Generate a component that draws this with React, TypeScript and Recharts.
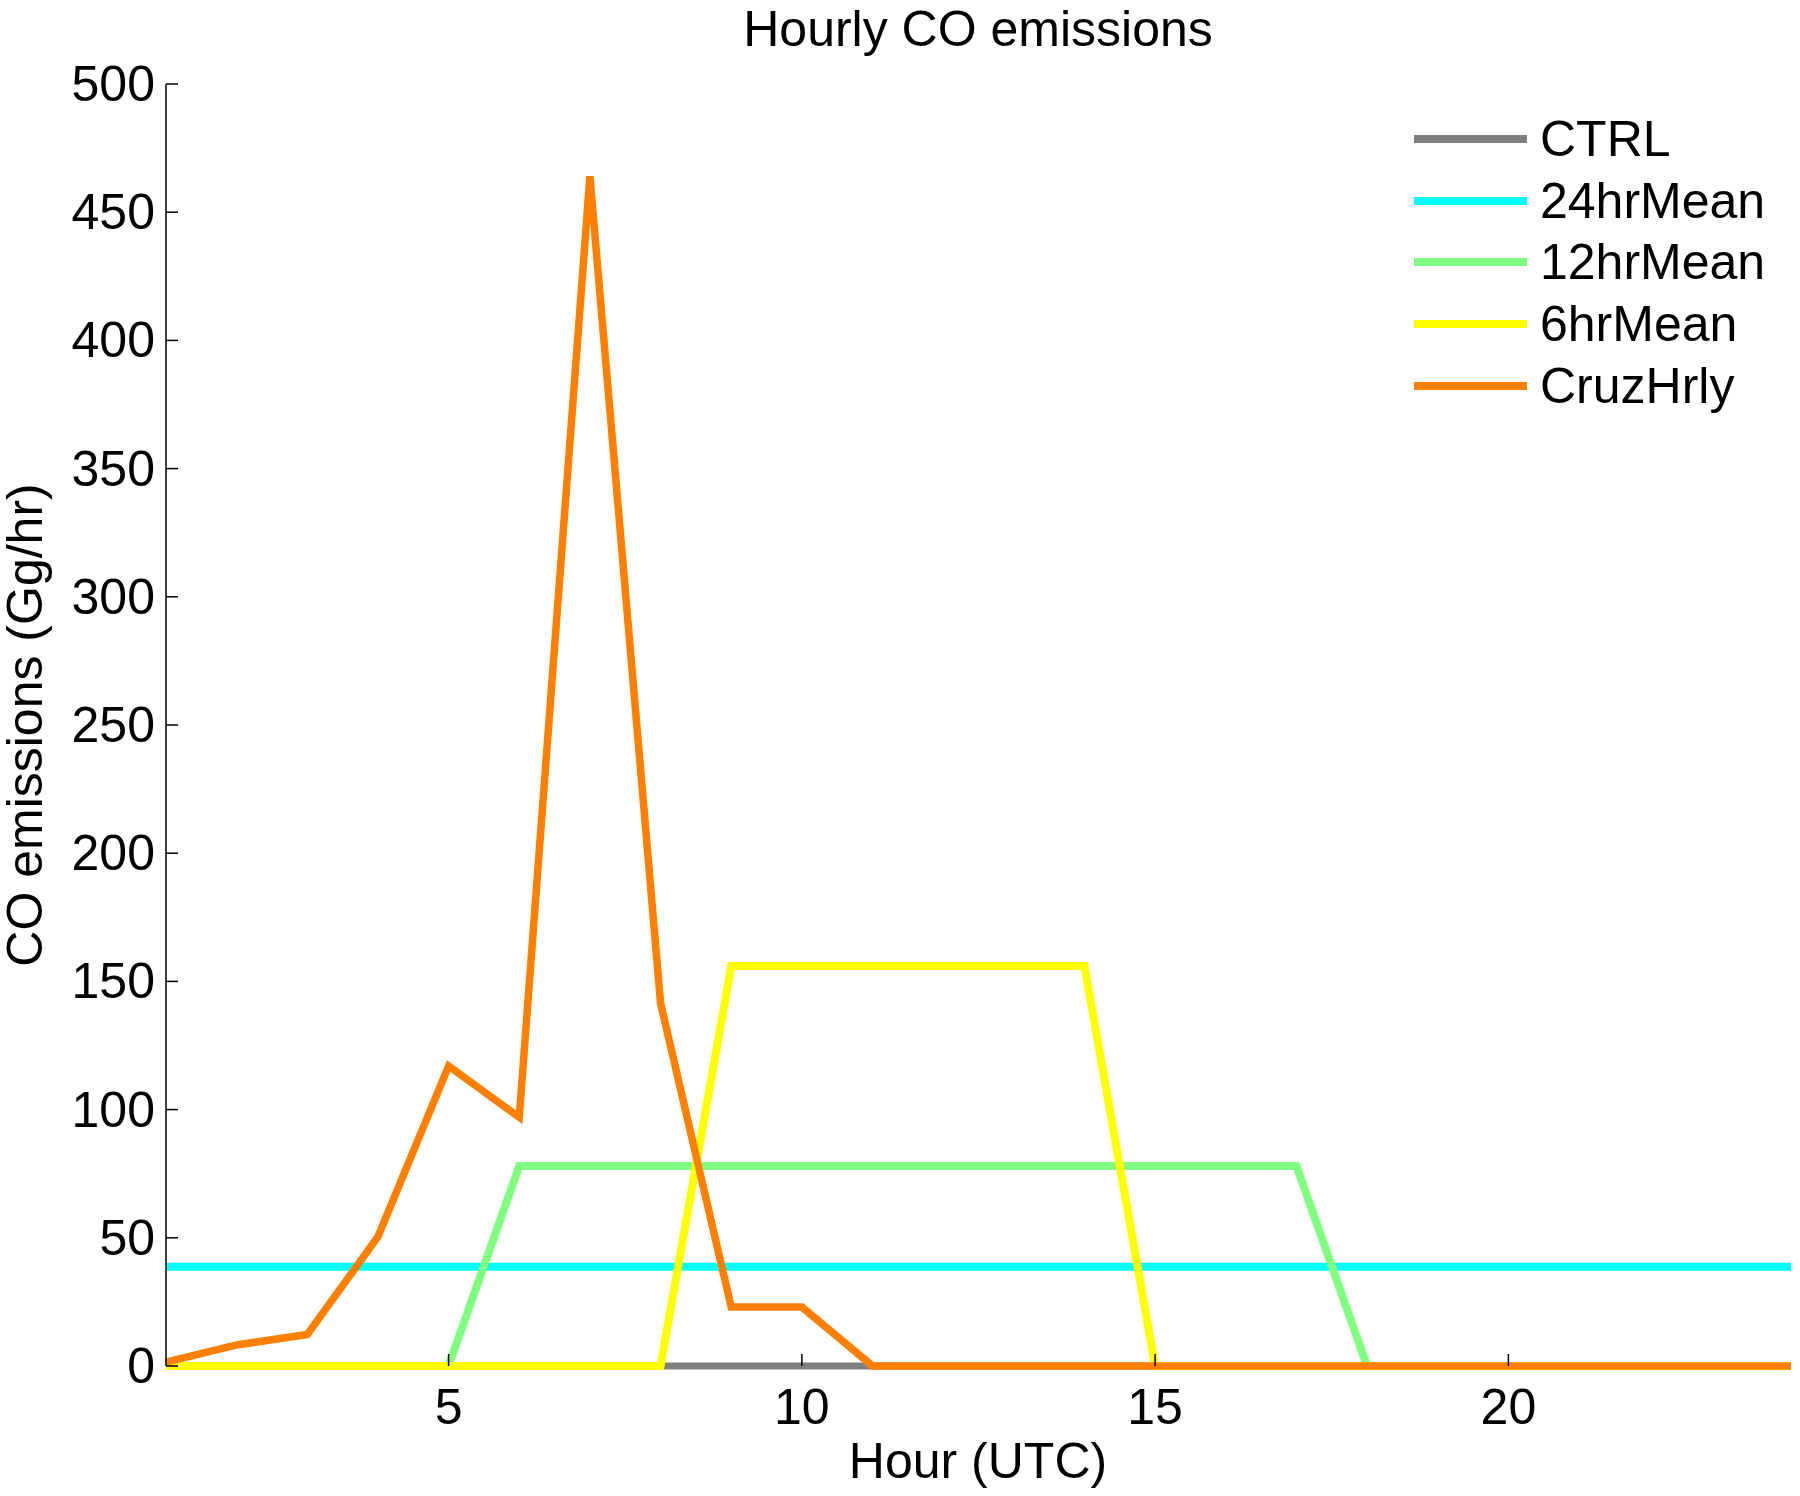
import React from "react";
import { LineChart, Line, XAxis, YAxis } from "recharts";

const hours = [1, 2, 3, 4, 5, 6, 7, 8, 9, 10, 11, 12, 13, 14, 15, 16, 17, 18, 19, 20, 21, 22, 23, 24];
const ctrl = [0, 0, 0, 0, 0, 0, 0, 0, 0, 0, 0, 0, 0, 0, 0, 0, 0, 0, 0, 0, 0, 0, 0, 0];
const mean24 = [38.7, 38.7, 38.7, 38.7, 38.7, 38.7, 38.7, 38.7, 38.7, 38.7, 38.7, 38.7, 38.7, 38.7, 38.7, 38.7, 38.7, 38.7, 38.7, 38.7, 38.7, 38.7, 38.7, 38.7];
const mean12 = [0, 0, 0, 0, 0, 78, 78, 78, 78, 78, 78, 78, 78, 78, 78, 78, 78, 0, 0, 0, 0, 0, 0, 0];
const mean6 = [0, 0, 0, 0, 0, 0, 0, 0, 156, 156, 156, 156, 156, 156, 0, 0, 0, 0, 0, 0, 0, 0, 0, 0];
const cruzHrly = [1.5, 8.2, 12.3, 50.4, 117, 97, 464, 141.5, 23, 23, 0, 0, 0, 0, 0, 0, 0, 0, 0, 0, 0, 0, 0, 0];

const xTicks = [5, 10, 15, 20];
const yTicks = [0, 50, 100, 150, 200, 250, 300, 350, 400, 450, 500];

const series = [
  { key: "ctrl", name: "CTRL", color: "#808080", width: 7 },
  { key: "mean24", name: "24hrMean", color: "#00ffff", width: 8 },
  { key: "mean12", name: "12hrMean", color: "#80ff80", width: 8 },
  { key: "mean6", name: "6hrMean", color: "#ffff00", width: 8 },
  { key: "cruz", name: "CruzHrly", color: "#ff8000", width: 7.5 },
];

const data = hours.map((h, i) => ({
  hour: h,
  ctrl: ctrl[i],
  mean24: mean24[i],
  mean12: mean12[i],
  mean6: mean6[i],
  cruz: cruzHrly[i],
}));

const FONT = "'Liberation Sans', Arial, Helvetica, sans-serif";
const TICK = 12;

function XTick(props: any) {
  const { x, y, payload } = props;
  return (
    <g>
      <line x1={x} y1={y} x2={x} y2={y - TICK} stroke="#000" strokeWidth={1.5} />
      <text x={x} y={y + 41} textAnchor="middle" dominantBaseline="central" fontSize={50} fontFamily={FONT} fill="#000">
        {payload.value}
      </text>
    </g>
  );
}

function YTick(props: any) {
  const { x, y, payload } = props;
  return (
    <g>
      <line x1={x} y1={y} x2={x + TICK} y2={y} stroke="#000" strokeWidth={1.5} />
      <text x={x - 11} y={y} textAnchor="end" dominantBaseline="central" fontSize={50} fontFamily={FONT} fill="#000">
        {payload.value}
      </text>
    </g>
  );
}

function LegendBox() {
  return (
    <div style={{ position: "absolute", left: 1414, top: 108, fontFamily: FONT, fontSize: 50, color: "#000" }}>
      {series.map((s) => (
        <div key={s.key} style={{ display: "flex", alignItems: "center", height: 61.7 }}>
          <div style={{ width: 113, height: 8, background: s.color, marginRight: 13 }} />
          <span style={{ lineHeight: 1 }}>{s.name}</span>
        </div>
      ))}
    </div>
  );
}

export default function App() {
  return (
    <div style={{ position: "absolute", left: 0, top: 0, width: 1800, height: 1496, background: "#fff" }}>
      <LineChart width={1800} height={1496} data={data} margin={{ top: 84, right: 9, bottom: 0, left: 0 }}>
        <XAxis
          dataKey="hour"
          type="number"
          domain={[1, 24]}
          ticks={xTicks}
          height={130}
          tickSize={0}
          tickMargin={0}
          tick={<XTick />}
          axisLine={false}
          tickLine={false}
        />
        <YAxis
          type="number"
          domain={[0, 500]}
          ticks={yTicks}
          width={166}
          tickSize={0}
          tickMargin={0}
          tick={<YTick />}
          axisLine={{ stroke: "#000", strokeWidth: 1.5 }}
          tickLine={false}
        />
        {series.map((s) => (
          <Line
            key={s.key}
            type="linear"
            dataKey={s.key}
            name={s.name}
            stroke={s.color}
            strokeWidth={s.width}
            dot={false}
            activeDot={false}
            isAnimationActive={false}
          />
        ))}
      </LineChart>
      <LegendBox />
      <div style={{ position: "absolute", left: 0, width: 1800, top: 0, paddingLeft: 156, boxSizing: "border-box", textAlign: "center", fontFamily: FONT, fontSize: 50, lineHeight: "58px" }}>
        Hourly CO emissions
      </div>
      <div style={{ position: "absolute", left: 0, width: 1800, top: 1432, paddingLeft: 156, boxSizing: "border-box", textAlign: "center", fontFamily: FONT, fontSize: 50, lineHeight: "58px" }}>
        Hour (UTC)
      </div>
      <div
        style={{
          position: "absolute",
          left: 25 - 400,
          top: 725 - 29,
          width: 800,
          textAlign: "center",
          fontFamily: FONT,
          fontSize: 50,
          lineHeight: "58px",
          transform: "rotate(-90deg)",
        }}
      >
        CO emissions (Gg/hr)
      </div>
    </div>
  );
}
